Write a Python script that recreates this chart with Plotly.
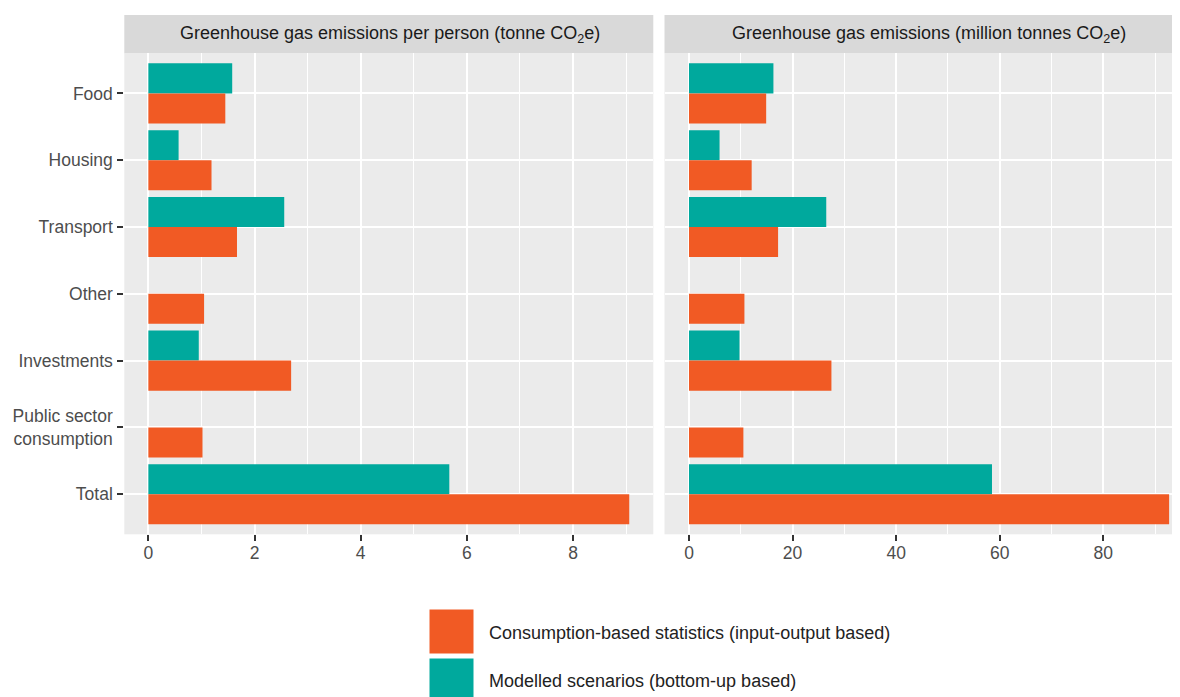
import plotly.graph_objects as go

# Emissions by category (consumption-based vs modelled)
categories = ['Food', 'Housing', 'Transport', 'Other', 'Investments',
              'Public sector<br>consumption', 'Total']

# tonne CO2e per person
per_person_consumption = [1.45, 1.19, 1.67, 1.05, 2.69, 1.02, 9.06]
per_person_modelled = [1.58, 0.57, 2.56, None, 0.95, None, 5.67]

# million tonnes CO2e
total_consumption = [14.9, 12.1, 17.2, 10.7, 27.5, 10.5, 92.7]
total_modelled = [16.3, 5.9, 26.5, None, 9.75, None, 58.5]

series_names = ['Consumption-based statistics (input-output based)',
                'Modelled scenarios (bottom-up based)']
panel_titles = ['Greenhouse gas emissions per person (tonne CO<sub>2</sub>e)',
                'Greenhouse gas emissions (million tonnes CO<sub>2</sub>e)']

ORANGE = '#F15A24'
TEAL = '#00A99D'
FONT = 'Liberation Sans, Arial, sans-serif'
# the page body has an 8px margin, so the figure is a bit smaller than the window
OFF = 8
W, H = 1180 - OFF, 697 - OFF


def px_x(p):
    return (p - OFF) / W


def px_y(p):
    return 1 - (p - OFF) / H


fig = go.Figure()

# teal first so it sits on top inside each group (y axis is reversed)
fig.add_trace(go.Bar(y=categories, x=per_person_modelled, orientation='h',
                     marker=dict(color=TEAL, line=dict(width=0)),
                     name=series_names[1], xaxis='x', yaxis='y'))
fig.add_trace(go.Bar(y=categories, x=per_person_consumption, orientation='h',
                     marker=dict(color=ORANGE, line=dict(width=0)),
                     name=series_names[0], xaxis='x', yaxis='y'))
fig.add_trace(go.Bar(y=categories, x=total_modelled, orientation='h',
                     marker=dict(color=TEAL, line=dict(width=0)),
                     name=series_names[1], xaxis='x2', yaxis='y2'))
fig.add_trace(go.Bar(y=categories, x=total_consumption, orientation='h',
                     marker=dict(color=ORANGE, line=dict(width=0)),
                     name=series_names[0], xaxis='x2', yaxis='y2'))

ydom = [px_y(534.3), px_y(53.3)]
grid_major = 1.6
grid_minor = 0.8

xcommon = dict(showline=False, zeroline=False, ticks='outside', ticklen=6,
               tickwidth=1.6, tickcolor='#333333', showgrid=True,
               gridcolor='white', gridwidth=grid_major,
               tickfont=dict(family=FONT, size=17.5, color='#4D4D4D'),
               ticklabelstandoff=-3)

fig.update_layout(
    width=W, height=H,
    margin=dict(l=0, r=0, t=0, b=0),
    paper_bgcolor='white',
    plot_bgcolor='#EBEBEB',
    barmode='group', bargap=0.1, bargroupgap=0,
    showlegend=False,
    xaxis=dict(domain=[px_x(124.3), px_x(653.3)], anchor='y',
               range=[-0.453, 9.513], dtick=2, tick0=0,
               minor=dict(dtick=1, tick0=0, showgrid=True,
                          gridcolor='white', gridwidth=grid_minor),
               **xcommon),
    xaxis2=dict(domain=[px_x(664.5), 1.0], anchor='y2',
                range=[-4.73, 94.8], dtick=20, tick0=0,
                minor=dict(dtick=10, tick0=0, showgrid=True,
                           gridcolor='white', gridwidth=grid_minor),
                **xcommon),
    yaxis=dict(domain=ydom, anchor='x', type='category',
               categoryorder='array', categoryarray=categories,
               range=[6.6, -0.6], showgrid=True, gridcolor='white',
               gridwidth=grid_major, zeroline=False, ticks='outside',
               ticklen=6, tickwidth=1.6, tickcolor='#333333',
               tickfont=dict(family=FONT, size=17.5, color='#4D4D4D'),
               ticklabelstandoff=1),
    yaxis2=dict(domain=ydom, anchor='x2', type='category',
                categoryorder='array', categoryarray=categories,
                range=[6.6, -0.6], showgrid=True, gridcolor='white',
                gridwidth=grid_major, zeroline=False, ticks='',
                showticklabels=False),
)

# facet strips
strip_y0, strip_y1 = px_y(53.3), px_y(15)
strips = [(124.3, 653.3, 390), (664.5, 1180, 929)]
for (x0, x1, xc), title in zip(strips, panel_titles):
    fig.add_shape(type='rect', xref='paper', yref='paper',
                  x0=px_x(x0), x1=px_x(x1), y0=strip_y0, y1=strip_y1,
                  fillcolor='#D9D9D9', line=dict(width=0), layer='below')
    fig.add_annotation(x=px_x(xc), y=(strip_y0 + strip_y1) / 2,
                       xref='paper', yref='paper', text=title,
                       showarrow=False, xanchor='center', yanchor='middle',
                       font=dict(family=FONT, size=18, color='#1A1A1A'))

# legend drawn by hand so the keys are as large as in the original
legend_keys = [(609, 654, 633, ORANGE, series_names[0]),
               (658, 703, 681, TEAL, series_names[1])]
for top, bottom, text_y, color, label in legend_keys:
    fig.add_shape(type='rect', xref='paper', yref='paper',
                  x0=px_x(429), x1=px_x(474), y0=px_y(bottom), y1=px_y(top),
                  fillcolor=color, line=dict(color='white', width=1))
    fig.add_annotation(x=px_x(487), y=px_y(text_y), xref='paper',
                       yref='paper', text=label, showarrow=False,
                       xanchor='left', yanchor='middle',
                       font=dict(family=FONT, size=18, color='#222222'))

fig.write_html('out.html')
